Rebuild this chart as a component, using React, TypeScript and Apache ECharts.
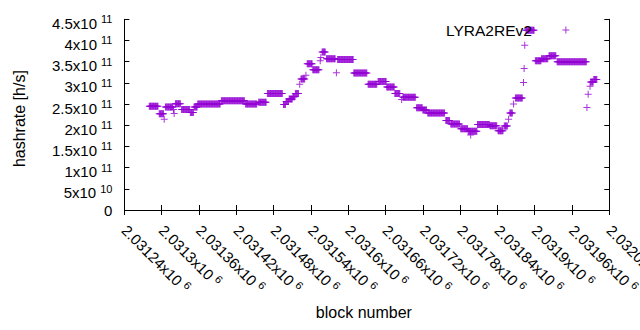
import React, { useEffect, useRef } from "react";
import * as echarts from "echarts";

// Block number offsets from 2031000 (start/end of each run of equal values), hashrate in 1e9 h/s
const runStart = [280, 296, 304, 306, 319, 320, 322, 332, 346, 352, 358, 396, 435, 456, 470, 496, 500, 505, 511, 515, 522, 524, 532, 534, 543, 555, 556, 558, 565, 581, 583, 609, 632, 648, 662, 675, 686, 688, 710, 720, 728, 757, 765, 781, 793, 797, 808, 828, 841, 851, 858, 860, 866, 869, 882, 883, 884, 886, 901, 911, 923, 936, 984, 986, 989, 990, 995];
const runEnd = [294, 303, 304, 318, 319, 320, 330, 345, 351, 357, 394, 433, 453, 468, 494, 499, 504, 510, 514, 520, 522, 530, 532, 542, 553, 555, 556, 563, 579, 581, 608, 630, 646, 661, 674, 683, 686, 708, 719, 726, 755, 763, 779, 792, 807, 797, 827, 839, 849, 856, 858, 864, 866, 880, 882, 883, 884, 899, 910, 921, 934, 983, 984, 986, 989, 994, 1000];
const runValue = [245, 227, 214, 243, 237, 228, 251, 237, 230, 243, 250, 258, 250, 254, 275, 249, 256, 262, 267, 275, 297, 309, 318, 345, 331, 352, 360, 373, 357, 324, 355, 323, 297, 303, 290, 275, 261, 266, 241, 236, 229, 211, 203, 192, 186, 177, 202, 199, 187, 198, 214, 229, 250, 264, 301, 334, 389, 424, 352, 357, 364, 350, 242, 273, 292, 302, 308];

const blockBase = 2031000;
const xMin = 2031240;
const xMax = 2032020;
const xStep = 60;
const yMin = 0;
const yMax = 4.5e11;
const yStep = 5e10;
const seriesName = "LYRA2REv2";

const plusPath = "path://M3,0h1v3h3v1h-3v3h-1v-3h-3v-1h3z";
const purple = "#9400d3";
const font = "Liberation Sans";

function buildData(): number[][] {
  const out: number[][] = [];
  for (let i = 0; i < runStart.length; i++) {
    for (let k = runStart[i]; k <= runEnd[i]; k++) {
      out.push([blockBase + k, runValue[i] * 1e9]);
    }
  }
  return out;
}

function sci(v: number): string {
  if (v === 0) return "{a|0}";
  const e = Math.floor(Math.log10(v) + 1e-9);
  const m = parseFloat((v / Math.pow(10, e)).toPrecision(6));
  return `{a|${m}x10}{s|${e}}`;
}

const rich = {
  a: { fontSize: 15, lineHeight: 15, verticalAlign: "bottom", fontFamily: font, color: "#000" },
  s: { fontSize: 11, lineHeight: 23, verticalAlign: "middle", fontFamily: font, color: "#000", padding: [0, 0, 0, 4] },
};

export default function App() {
  const ref = useRef<HTMLDivElement>(null);
  useEffect(() => {
    if (!ref.current) return;
    const chart = echarts.init(ref.current, undefined, { renderer: "svg" });
    const axisLine = { show: true, lineStyle: { color: "#000", width: 1 } };
    const tick = { show: true, inside: true, length: 5, lineStyle: { color: "#000" } };
    chart.setOption({
      animation: false,
      backgroundColor: "#fff",
      grid: { left: 124.4, right: 30.7, top: 19.3, bottom: 120, containLabel: false, outerBoundsMode: "none" },
      legend: {
        show: true,
        data: [{ name: seriesName, icon: plusPath }],
        align: "right",
        left: 446,
        top: 22,
        itemWidth: 58,
        itemHeight: 7,
        symbolKeepAspect: true,
        textStyle: { fontFamily: font, fontSize: 15.5, color: "#000" },
        padding: 0,
      },
      xAxis: [
        {
          type: "value",
          min: xMin,
          max: xMax,
          interval: xStep,
          name: "block number",
          nameLocation: "middle",
          nameGap: 94,
          nameTextStyle: { fontFamily: font, fontSize: 16, color: "#000", padding: [0, 6, 0, 0] },
          axisLine,
          axisTick: tick,
          splitLine: { show: false },
          axisLabel: {
            rotate: -45,
            margin: 12,
            padding: [0, 0, 0, 4],
            formatter: (v: number) => sci(v),
            rich,
            showMinLabel: true,
            showMaxLabel: true,
            hideOverlap: false,
          },
        },
        {
          type: "value",
          position: "top",
          min: xMin,
          max: xMax,
          interval: xStep,
          axisLine,
          axisTick: tick,
          axisLabel: { show: false },
          splitLine: { show: false },
        },
      ],
      yAxis: [
        {
          type: "value",
          min: yMin,
          max: yMax,
          interval: yStep,
          name: "hashrate [h/s]",
          nameLocation: "middle",
          nameRotate: 90,
          nameGap: 97,
          nameTextStyle: { fontFamily: font, fontSize: 16, color: "#000", padding: [0, 8, 0, 0] },
          axisLine,
          axisTick: tick,
          splitLine: { show: false },
          axisLabel: { margin: 12, formatter: (v: number) => sci(v), rich },
        },
        {
          type: "value",
          position: "right",
          min: yMin,
          max: yMax,
          interval: yStep,
          axisLine,
          axisTick: tick,
          axisLabel: { show: false },
          splitLine: { show: false },
        },
      ],
      series: [
        {
          name: seriesName,
          type: "scatter",
          symbol: plusPath,
          symbolSize: 7,
          itemStyle: { color: purple },
          data: buildData(),
          large: false,
        },
      ],
    });
    return () => chart.dispose();
  }, []);
  return <div ref={ref} style={{ position: "fixed", left: 0, top: 0, width: 640, height: 330 }} />;
}
